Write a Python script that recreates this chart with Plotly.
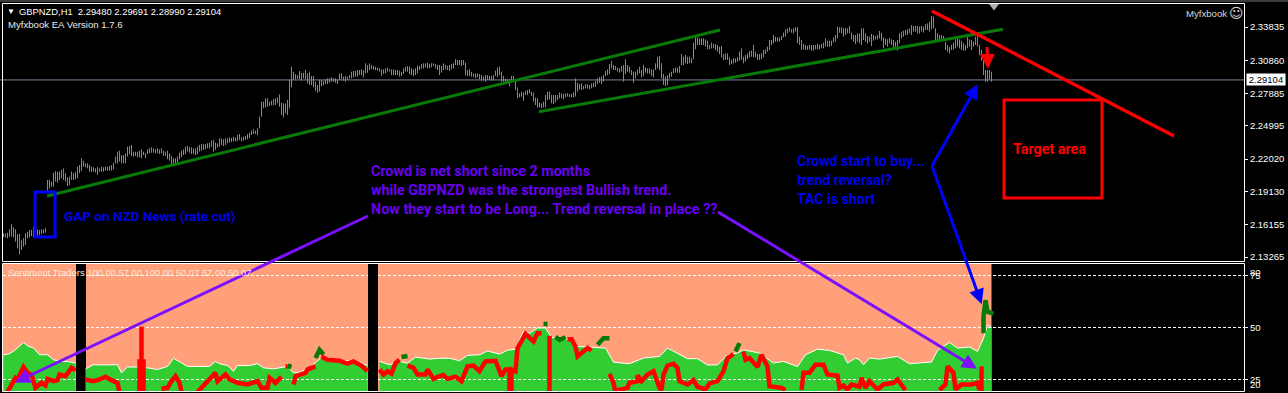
import plotly.graph_objects as go

# ---- price data (H1 bars, price in points of 0.0001) ----
bar_high = [
21539,21539,21545,21575,21620,21593,21575,21533,21533,21480,
21495,21539,21554,21569,21569,21593,21584,21575,21569,21575,
21575,21584,22016,22016,22001,22082,22094,22090,22090,22105,
22120,22076,22040,22046,22090,22076,22090,22135,22150,22210,
22189,22165,22165,22150,22135,22129,22120,22129,22120,22135,
22129,22135,22135,22141,22150,22171,22225,22269,22278,22239,
22239,22254,22314,22320,22329,22269,22269,22269,22278,22290,
22269,22254,22290,22299,22308,22299,22290,22299,22290,22299,
22278,22269,22278,22254,22231,22210,22210,22225,22260,22278,
22290,22314,22320,22308,22308,22299,22299,22314,22329,22338,
22338,22338,22344,22350,22368,22374,22350,22344,22388,22388,
22380,22388,22388,22397,22391,22403,22397,22418,22427,22397,
22403,22409,22427,22439,22457,22469,22457,22478,22582,22716,
22716,22746,22746,22716,22725,22737,22746,22755,22782,22707,
22701,22701,22731,22910,23029,22984,22963,22954,22990,22975,
22975,22999,22969,22984,22946,22946,22895,22865,22910,22910,
22901,22916,22925,22925,22934,22925,22925,22916,22969,22969,
22940,22946,22940,22954,22984,22990,22993,22999,22999,23005,
22999,23059,23044,23059,23044,23035,23029,23020,23014,23005,
23005,23014,23020,23005,23005,23005,22999,22999,22993,22984,
23014,23029,23035,23029,23014,23005,23014,23038,23035,23053,
23059,23059,23065,23053,23059,23059,23053,23044,23044,23035,
23059,23044,23038,23044,23053,23059,23095,23089,23089,23089,
23089,23065,22999,23005,22984,22969,22969,22969,22963,22954,
22940,22954,22954,22946,22946,22954,22993,23020,23029,22984,
22946,22919,22916,22916,22946,22946,22895,22844,22791,22806,
22797,22814,22820,22829,22806,22797,22752,22746,22707,22701,
22716,22776,22806,22806,22776,22776,22776,22776,22797,22791,
22785,22791,22791,22785,22785,22797,22925,22886,22874,22880,
22856,22874,22871,22865,22880,22886,22904,22925,22934,22940,
22954,22990,23005,23053,23080,23044,23035,23020,23014,23035,
23044,23095,23044,23029,22999,22984,22984,23005,23029,22999,
23044,23023,23014,23014,23005,23005,23059,23118,23124,23059,
22963,22940,22954,22975,22984,23014,23020,23020,23035,23142,
23118,23133,23118,23118,23104,23244,23291,23291,23282,23282,
23282,23273,23261,23223,23244,23232,23232,23223,23208,23214,
23142,23148,23148,23112,23089,23104,23104,23112,23163,23193,
23118,23133,23148,23169,23172,23223,23163,23142,23142,23148,
23178,23184,23208,23267,23267,23312,23297,23291,23291,23303,
23333,23363,23372,23381,23363,23372,23381,23381,23297,23267,
23232,23223,23214,23223,23223,23223,23223,23232,23223,23232,
23244,23282,23261,23261,23261,23291,23312,23387,23381,23381,
23372,23372,23372,23393,23333,23312,23312,23327,23327,
23372,23372,23327,23303,23297,23321,23312,23303,23312,23348,
23333,23291,23282,23273,23282,23273,23267,23252,23267,23327,
23342,23351,23357,23363,23372,23401,23393,23393,23393,23387,
23393,23387,23410,23416,23431,23482,23476,23372,23327,23312,
23312,23303,23252,23223,23202,23223,23244,23273,23282,23273,
23261,23238,23223,23297,23273,23267,23252,23297,23303,23223,
23178,23104,22999,22999,22999,22984,
]
bar_low = [
21503,21503,21494,21509,21509,21503,21465,21405,21351,21390,
21420,21435,21495,21503,21515,21503,21503,21515,21524,21533,
21539,21545,21921,21941,21956,21956,22001,21992,22016,22031,
22016,22001,21962,21971,22016,22016,22022,22031,22076,22099,
22135,22129,22120,22090,22090,22090,22082,22061,22090,22090,
22090,22099,22099,22099,22099,22111,22165,22165,22180,22165,
22165,22165,22225,22248,22231,22225,22231,22219,22219,22210,
22239,22210,22248,22254,22260,22260,22254,22254,22248,22254,
22231,22231,22201,22189,22159,22150,22159,22165,22201,22219,
22239,22248,22269,22260,22248,22248,22239,22248,22269,22278,
22284,22290,22299,22299,22314,22269,22284,22308,22314,22329,
22320,22329,22344,22350,22356,22362,22362,22362,22374,22362,
22368,22374,22380,22391,22418,22427,22427,22418,22478,22582,
22657,22665,22671,22677,22683,22683,22686,22701,22671,22597,
22576,22612,22597,22657,22844,22910,22916,22922,22916,22904,
22925,22916,22880,22865,22865,22844,22814,22797,22806,22856,
22862,22874,22874,22886,22895,22895,22886,22874,22910,22916,
22904,22895,22910,22922,22925,22934,22940,22940,22954,22954,
22934,22969,22975,22999,23005,23005,22999,22993,22984,22946,
22963,22969,22984,22984,22954,22954,22954,22954,22940,22946,
22963,22984,22984,22963,22954,22946,22954,22969,22999,23011,
23014,23023,23014,23014,23023,23035,23014,22999,22954,22975,
22999,23005,22999,22990,23005,23014,23044,23044,23044,23035,
23044,22954,22946,22946,22940,22940,22925,22934,22916,22904,
22904,22895,22910,22910,22904,22910,22946,22934,22954,22895,
22895,22880,22880,22856,22895,22904,22820,22746,22755,22761,
22725,22776,22776,22791,22767,22716,22686,22665,22665,22657,
22665,22665,22731,22737,22701,22695,22707,22731,22746,22746,
22737,22755,22761,22755,22755,22755,22761,22806,22826,22820,
22826,22835,22835,22826,22835,22844,22850,22874,22886,22874,
22895,22946,22954,22963,23014,22999,22999,22984,22975,22984,
22895,22963,22984,22975,22954,22886,22925,22954,22969,22934,
22946,22975,22969,22963,22946,22934,22999,23014,22999,22925,
22865,22856,22865,22925,22940,22969,22975,22975,22975,23044,
23044,23059,23053,23059,23059,23095,23184,23223,23223,23223,
23223,23208,23184,23184,23193,23193,23178,23163,23142,23112,
23089,23089,23089,23044,23053,23059,23065,23074,23083,23089,
23059,23074,23095,23112,23118,23112,23112,23089,23089,23095,
23112,23142,23163,23178,23223,23238,23252,23252,23252,23267,
23291,23297,23327,23342,23333,23327,23342,23238,23223,23178,
23184,23178,23178,23184,23172,23172,23184,23184,23184,23193,
23193,23208,23208,23208,23214,23244,23252,23282,23333,23327,
23297,23312,23327,23327,23273,23252,23232,23252,23238,
23223,23267,23252,23238,23252,23214,23261,23273,23273,23282,
23261,23193,23223,23208,23238,23223,23193,23193,23172,23238,
23282,23297,23312,23312,23327,23312,23342,23342,23327,23327,
23342,23333,23357,23357,23342,23363,23372,23267,23261,23267,
23267,23261,23178,23163,23148,23178,23184,23193,23208,23193,
23178,23172,23172,23193,23208,23178,23208,23223,23208,23133,
23083,22954,22895,22895,22916,22895,
]
price_ticks = [2.33835, 2.30860, 2.27885, 2.24995, 2.22020, 2.19130, 2.16155, 2.13265]
last_price = 2.29104

# ---- sentiment data ----
crowd_bar = [0,3,6,10,12,15,18,22,25,28,32,36,None,
    41,45,50,57,59,62,67,72,77,82,85,88,92,98,103,106,108,112,115,117,123,127,130,135,140,142,145,148,153,157,160,165,172,177,182,None,
    188,193,198,202,206,210,213,218,223,228,232,238,242,248,252,256,260,263,267,271,274,279,283,287,292,297,301,305,313,320,328,332,338,342,347,352,357,362,367,370,378,385,390,397,401,407,413,420,422,426,428,430,433,438,447,453,464,467,473,477,483,487,490,492,494]
crowd_val = [36.9,37.4,39.3,42.8,41.2,40.1,36.9,36.9,34.5,33.7,33.7,32.9,None,
    30.1,32.1,32.0,32.1,28.2,31.0,31.0,30.6,29.8,31.3,35.2,33.7,31.3,31.3,31.3,33.7,32.6,31.7,29.0,31.7,31.7,32.6,30.6,30.1,31.0,31.3,28.2,28.5,30.6,33.7,36.4,34.5,34.0,33.7,31.7,None,
    33.7,32.1,33.7,32.9,35.8,35.3,34.8,35.2,35.2,34.0,36.6,36.9,38.7,37.2,39.1,39.6,48.2,47.2,49.8,49.8,45.3,44.0,44.5,40.9,40.6,40.1,40.1,33.3,32.6,35.3,36.1,40.1,36.9,35.0,35.0,32.0,32.0,36.9,37.7,39.3,37.7,32.9,33.7,31.2,36.9,39.6,39.0,36.9,32.9,35.3,34.5,32.1,35.3,34.8,36.1,32.6,33.4,39.0,42.8,40.1,40.6,38.5,44.8,51.2,50.1]

tac_bar = [2,5,6,7,10,12,14,16,19,21,22,25,27,28,31,34,36,None,
    41,45,48,51,54,57,58,None,
    69,69,None,68,68,70,70,None,
    79,82,84,86,88,89,None,
    97,100,103,106,107,111,113,117,122,127,129,132,133,136,139,None,
    141,142,None,
    145,146,151,152,156,None,
    159,162,168,172,175,179,182,None,
    188,190,192,194,196,198,None,
    202,205,207,211,212,213,215,217,220,222,226,229,232,235,238,241,246,249,251,253,253,254,254,256,257,261,265,267,269,None,
    273,273,None,
    282,284,286,287,292,294,None,
    303,305,306,None,
    307,312,313,317,317,319,322,325,328,329,330,332,335,337,338,342,345,347,351,353,357,360,362,365,None,
    370,371,373,377,379,382,383,389,391,None,
    399,400,403,406,410,412,417,418,420,422,424,428,429,431,433,437,440,445,447,451,None,
    468,471,472,475,476,479,484,487,488,None,
    489,489]
tac_val = [19,24.2,25.8,25.0,31.0,28.2,27.4,21.0,23.4,22.1,25.3,24.2,24.7,27.4,26.6,30.6,29.4,None,
    25.0,24.2,25.0,26.3,24.7,23.4,19,None,
    19,50.4,None,19,33.7,33.7,19,None,
    20.6,21.0,24.2,26.6,23.4,19,None,
    19,22.1,25.8,28.2,24.2,27.4,25.0,23.4,22.6,24.2,21.0,21.0,25.8,23.4,26.3,None,
    31.3,31.3,None,
    22.6,26.6,28.2,29.8,31.3,None,
    36.1,34.5,34.0,32.6,33.7,31.7,29.0,None,
    29.8,27.4,29.0,27.9,32.9,34.5,None,
    31.7,30.6,27.4,27.4,29.8,28.2,25.3,26.3,27.1,25.3,26.3,24.2,31.3,31.7,29.0,33.7,34.0,26.6,29.8,29.8,19,19,29.8,29.0,40.1,46.9,43.3,47.2,47.2,None,
    46.0,19,None,
    44.4,44.4,40.9,36.1,40.1,39.0,None,
    27.7,23.4,19,None,
    19.9,21.0,23.4,24.2,27.1,24.2,27.4,29.0,21.0,19.9,27.4,31.7,32.6,30.6,24.2,22.6,24.7,21.5,20.2,23.1,24.2,29.0,35.3,37.2,None,
    38.5,34.5,35.3,31.0,36.9,31.3,21.8,21.0,19.9,None,
    19.9,28.2,28.2,32.1,32.1,27.4,26.9,21.0,22.1,20.2,22.6,21.5,25.8,21.0,24.2,20.2,22.6,23.4,25.0,19.9,None,
    19.9,22.6,31.3,28.2,20.2,22.6,22.6,23.4,19.9,None,
    31.3,19]
above_bar = [142,144,None,152,154,None,156,158,160,None,199,202,None,270,272,None,276,278,281,None,297,300,303,None,366,368,None,490,490,491,492,495]
above_val = [31.6,31.0,None,29.8,30.6,None,35.3,39.3,37.0,None,35.8,36.3,None,51.7,51.7,None,45.6,44.0,45.3,None,41.7,44.8,44.8,None,38.5,42.5,None,47.2,55.2,63.1,57.6,56.7]
level_vals = [75, 50, 25]
gap_edges = [(-0.25, 36.25), (41.25, 182.25), (187.25, 494.0)]

# ---- drawn trend lines (bar index, price) ----
green_a_bar, green_a_price = [21.75, 358.25], [2.1873, 2.3357]
green_b_bar, green_b_price = [267.75, 499.75], [2.2626, 2.3363]
red_bar, red_price = [464.25, 585.25], [2.3527, 2.2409]

W, H = 1288, 393
PLOT_R = 1244.0
X_RANGE = [-1.75, (PLOT_R - 3.5) / 2]
Y1_PX = (4.0, 261.0)
Y2_PX = (264.0, 391.0)
SLOPE = 2.08
Y1_RANGE = [2.3625 - Y1_PX[1] * 0.000894, 2.3625 - Y1_PX[0] * 0.000894]
Y2_RANGE = [50 - (Y2_PX[1] - 327.5) / SLOPE, 50 + (327.5 - Y2_PX[0]) / SLOPE]


def px(x): return x / W
def py(y): return 1 - y / H
def bar_paper(i): return (i - X_RANGE[0]) / (X_RANGE[1] - X_RANGE[0]) * PLOT_R / W
def price_paper(p):
    f = (p - Y1_RANGE[0]) / (Y1_RANGE[1] - Y1_RANGE[0])
    return py(Y1_PX[1]) + f * (py(Y1_PX[0]) - py(Y1_PX[1]))
def sent_paper(v):
    f = (v - Y2_RANGE[0]) / (Y2_RANGE[1] - Y2_RANGE[0])
    return py(Y2_PX[1]) + f * (py(Y2_PX[0]) - py(Y2_PX[1]))


def segments(xs, ys):
    out, cx, cy = [], [], []
    for a, b in zip(xs, ys):
        if a is None:
            out.append((cx, cy))
            cx, cy = [], []
        else:
            cx.append(a)
            cy.append(b)
    out.append((cx, cy))
    return out


fig = go.Figure()
LIME = "#32CD32"
# sentiment panel: each stretch between the indicator's blank columns is its own area
for a, b in gap_edges:
    fig.add_trace(go.Scatter(x=[a, b], y=[Y2_RANGE[1], Y2_RANGE[1]], yaxis="y2", mode="lines", line=dict(width=0),
                             fill="tozeroy", fillcolor="#FFA07A", hoverinfo="skip"))
for cx, cy in segments(crowd_bar, crowd_val):
    fig.add_trace(go.Scatter(x=cx, y=cy, yaxis="y2", mode="lines", line=dict(color="white", width=1),
                             fill="tozeroy", fillcolor=LIME, hoverinfo="skip"))
for lv in level_vals:
    lx, ly = [], []
    for a, b in [gap_edges[0], gap_edges[1], (gap_edges[2][0], X_RANGE[1])]:
        lx += [a, b, None]
        ly += [lv, lv, None]
    fig.add_trace(go.Scatter(x=lx, y=ly, yaxis="y2", mode="lines", line=dict(color="white", width=1, dash="3px,2px"), hoverinfo="skip"))
fig.add_trace(go.Scatter(x=above_bar, y=above_val, yaxis="y2", mode="lines", line=dict(color="#067a06", width=4.5), hoverinfo="skip"))
fig.add_trace(go.Scatter(x=tac_bar, y=tac_val, yaxis="y2", mode="lines", line=dict(color="#ff0000", width=4.5), hoverinfo="skip"))

# price panel
bx, by = [], []
for i, (h, l) in enumerate(zip(bar_high, bar_low)):
    bx += [i, i, None]
    by += [h / 10000, l / 10000, None]
fig.add_trace(go.Scatter(x=X_RANGE, y=[last_price, last_price], mode="lines", line=dict(color="#778899", width=1), hoverinfo="skip"))
fig.add_trace(go.Scatter(x=bx, y=by, mode="lines", line=dict(color="#2ecc14", width=1), hoverinfo="skip"))
fig.add_trace(go.Scatter(x=green_a_bar, y=green_a_price, mode="lines", line=dict(color="#087a08", width=3), hoverinfo="skip"))
fig.add_trace(go.Scatter(x=green_b_bar, y=green_b_price, mode="lines", line=dict(color="#087a08", width=3), hoverinfo="skip"))
fig.add_trace(go.Scatter(x=red_bar, y=red_price, mode="lines", line=dict(color="#ff0000", width=3.5), hoverinfo="skip"))
fig.add_trace(go.Scatter(x=[495.25], y=[2.3572], mode="markers", marker=dict(symbol="triangle-down", size=9, color="#b0b0b0"), hoverinfo="skip", cliponaxis=False))

shapes = [
    dict(type="rect", xref="paper", yref="paper", x0=0, x1=1, y0=py(2), y1=1, fillcolor="#3c3c3c", line_width=0),
    dict(type="rect", xref="paper", yref="paper", x0=px(2.5), x1=px(1244.5), y0=py(261.5), y1=py(3.5), line=dict(color="white", width=1)),
    dict(type="rect", xref="paper", yref="paper", x0=px(2.5), x1=px(1244.5), y0=py(391.5), y1=py(263.5), line=dict(color="white", width=1)),
    dict(type="rect", xref="x", yref="y", x0=15.75, x1=25.75, y0=2.1506, y1=2.1908, line=dict(color="#0000ff", width=3)),
    dict(type="rect", xref="x", yref="y", x0=500.25, x1=549.25, y0=2.1855, y1=2.2731, line=dict(color="#ff0000", width=3)),
]

anns = []
def text(x, y, s, color, size, font="Liberation Sans", bold=False, **kw):
    anns.append(dict(xref="paper", yref="paper", x=px(x), y=py(y), text=("<b>%s</b>" % s) if bold else s, showarrow=False,
                     xanchor=kw.pop("xanchor", "left"), yanchor="middle", align="left",
                     font=dict(color=color, size=size, family=font), borderpad=0, **kw))
def arrow(tail, tip, color, width):
    dx, dy = (tail[0] - tip[0]) * W, -(tail[1] - tip[1]) * H
    length = (dx * dx + dy * dy) ** 0.5
    f = 8.0 / length  # shaft stops inside the arrow head
    shapes.append(dict(type="line", xref="paper", yref="paper", x0=tail[0], y0=tail[1],
                       x1=tip[0] + (tail[0] - tip[0]) * f, y1=tip[1] + (tail[1] - tip[1]) * f, line=dict(color=color, width=width)))
    anns.append(dict(xref="paper", yref="paper", axref="pixel", ayref="pixel", x=tip[0], y=tip[1],
                     ax=dx * 14.0 / length, ay=dy * 14.0 / length,
                     text="", showarrow=True, arrowhead=2, arrowsize=1, arrowwidth=width, arrowcolor=color, standoff=0, startstandoff=0))

arrow((bar_paper(182.25), price_paper(2.1694)), (bar_paper(5.75), sent_paper(23.6)), "#7b10ff", 3)
arrow((bar_paper(357.25), price_paper(2.1730)), (bar_paper(486.75), sent_paper(30.2)), "#7b10ff", 3)
arrow((bar_paper(464.25), price_paper(2.2141)), (bar_paper(487.25), price_paper(2.2874)), "#0000ff", 3)
arrow((bar_paper(464.25), price_paper(2.2141)), (bar_paper(489.1), sent_paper(61.2)), "#0000ff", 3)
arrow((bar_paper(491.75), price_paper(2.3205)), (bar_paper(492.25), price_paper(2.3008)), "#ff0000", 3)

text(6, 11.5, "▼", "white", 8)
text(18, 11.5, "GBPNZD,H1&nbsp;&nbsp;2.29480 2.29691 2.28990 2.29104", "white", 9.4)
text(7, 25, "Myfxbook EA Version 1.7.6", "#e8e8e8", 9.6)
text(1185, 13, "Myfxbook", "#d8d8d8", 9.6)
text(1227.5, 13, "☺", "#d8d8d8", 14, font="DejaVu Sans")
text(7, 272, "Sentiment Traders 100.00 57.00 100.00 50.07 57.00 50.07", "#ffe8dc", 9.4)
F = "Roboto"
PUR = "#6a00f0"
BLU = "#0000e8"
text(370, 171, "Crowd is net short since 2 months", PUR, 14.3, F, True)
text(370, 190, "while GBPNZD was the strongest Bullish trend.", PUR, 14.3, F, True)
text(370, 209, "Now they start to be Long... Trend reversal in place ??", PUR, 14.4, F, True)
text(63, 216, "GAP on NZD News (rate cut)", BLU, 13.5, F, True)
text(796, 161, "Crowd start to buy...", BLU, 14.1, F, True)
text(796, 180, "trend reversal?", BLU, 14.1, F, True)
text(796, 199, "TAC is short", BLU, 14.1, F, True)
text(1012, 149, "Target area", "#ff0000", 14.3, F, True)
# y2 labels squeezed by the terminal
text(1248.5, 272, "80", "white", 9.5)
text(1248.5, 384, "20", "white", 9.5)
# last price flag
anns.append(dict(xref="paper", yref="y", x=px(1246), y=last_price, xanchor="left", yanchor="middle", text="2.29104", showarrow=False,
                 bgcolor="white", width=38, height=11, borderpad=0, align="center", font=dict(color="black", size=9.5, family="Liberation Sans")))

fig.update_layout(
    width=W, height=H, margin=dict(l=0, r=0, t=0, b=0), autosize=False, showlegend=False,
    paper_bgcolor="black", plot_bgcolor="black", hovermode=False,
    xaxis=dict(domain=[0, PLOT_R / W], range=X_RANGE, visible=False, fixedrange=True),
    yaxis=dict(domain=[py(Y1_PX[1]), py(Y1_PX[0])], range=Y1_RANGE, side="right", showgrid=False, zeroline=False,
               tickvals=price_ticks, ticktext=["%.5f" % t for t in price_ticks], ticks="outside", ticklen=3, tickcolor="white",
               tickfont=dict(color="white", size=9.5, family="Liberation Sans"), automargin=False, showline=False),
    yaxis2=dict(domain=[py(Y2_PX[1]), py(Y2_PX[0])], range=Y2_RANGE, side="right", anchor="x", showgrid=False, zeroline=False,
                tickvals=level_vals, ticktext=[str(v) for v in level_vals], ticks="outside", ticklen=3, tickcolor="white",
                tickfont=dict(color="white", size=9.5, family="Liberation Sans"), automargin=False, showline=False),
    shapes=shapes, annotations=anns,
)
fig.write_html("out.html", config={"displayModeBar": False},
               post_script="document.body.style.margin='0';document.body.style.background='black';document.body.style.overflow='hidden';")
